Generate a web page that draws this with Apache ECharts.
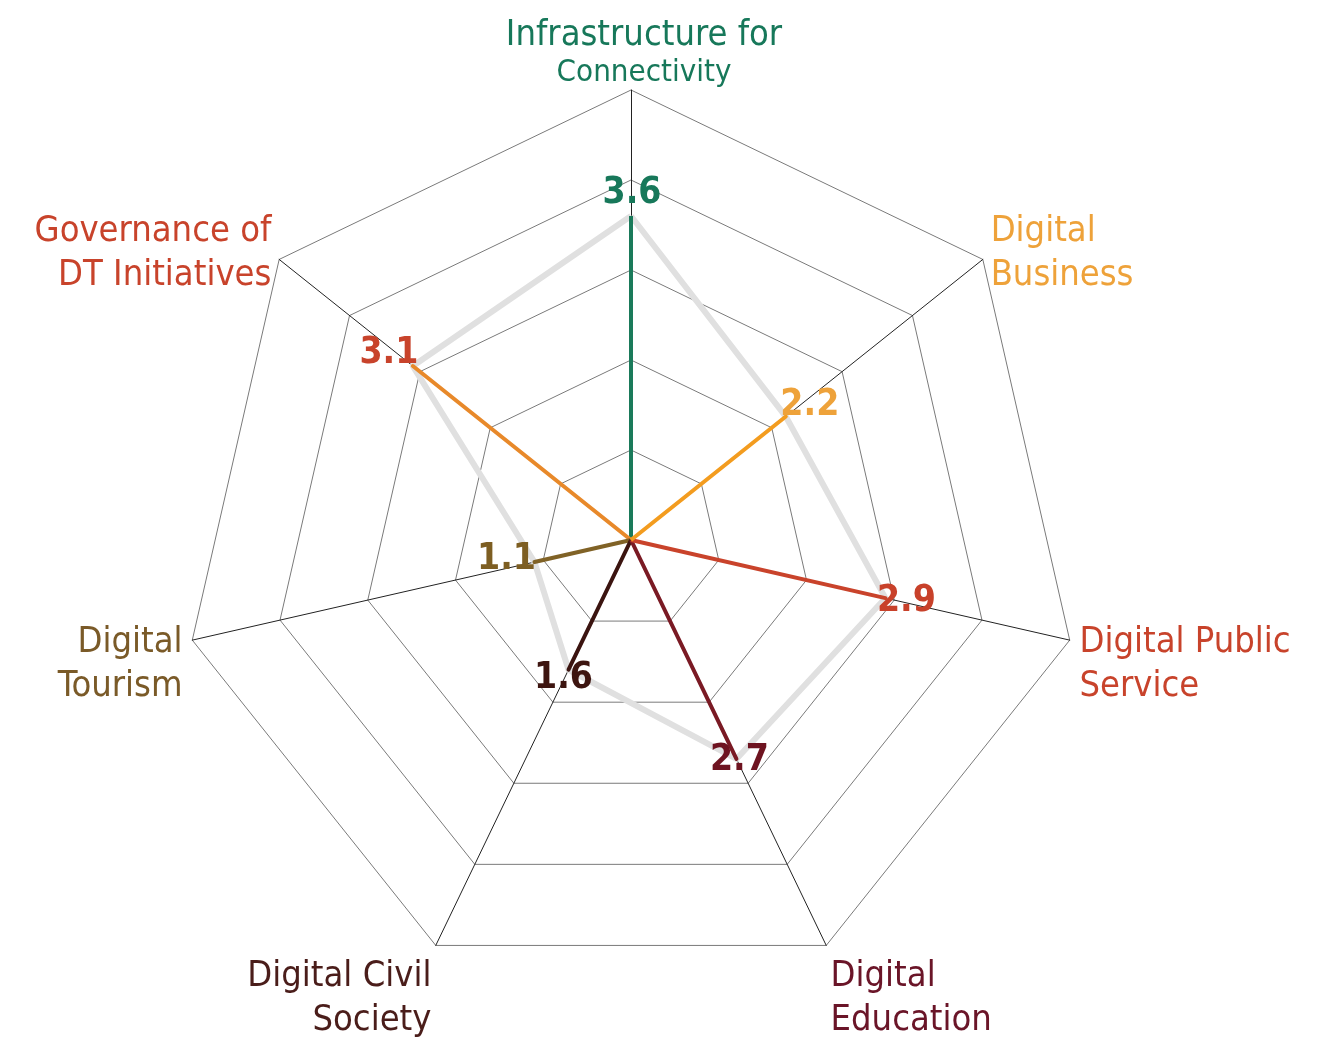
<!DOCTYPE html>
<html>
<head>
<meta charset="utf-8">
<script src="https://cdn.jsdelivr.net/npm/echarts@6/dist/echarts.min.js"></script>
<style>
  html, body { margin: 0; padding: 0; background: #fff; }
  #radar { width: 1329px; height: 1043px; }
</style>
</head>
<body>
<div id="radar"></div>
<script>
// indicators go counter-clockwise from the top, like echarts draws them
var axisNames = [
    'Infrastructure for\nConnectivity',
    'Governance of\nDT Initiatives',
    'Digital\nTourism',
    'Digital Civil\nSociety',
    'Digital\nEducation',
    'Digital Public\nService',
    'Digital\nBusiness'
];
var scores = [3.6, 3.1, 1.1, 1.6, 2.7, 2.9, 2.2];
var scaleMax = 5;

var nameColors = ['#17785a', '#c8432b', '#7a5a28', '#4a1d1a', '#6a1528', '#c8432b', '#eea23a'];
var spokeColors = ['#1a7a5a', '#e8892a', '#806226', '#3b1410', '#7a1a24', '#c9432b', '#f39c1f'];
var labelColors = ['#17785a', '#c8432b', '#7d5e22', '#3d1510', '#6e1320', '#c8412a', '#eea23a'];
var labelPlace = [
    { position: 'top', distance: 4, offset: [1, 0] },
    { position: 'top', distance: 2, offset: [-24, 8] },
    { position: 'left', distance: 4, offset: [6, -3] },
    { position: 'bottom', distance: 6, offset: [-5, -16] },
    { position: 'bottom', distance: 10, offset: [3, -28] },
    { position: 'right', distance: 3, offset: [-12, 3] },
    { position: 'top', distance: 1, offset: [24, 9] }
];
// blank lines pushed in front of a name to drop it below its vertex
var namePush = [0, 0, 1, 2, 2, 1, 0];

var font = "'DejaVu Sans Condensed', 'Liberation Sans Narrow', Roboto, sans-serif";

window.onload = function() {
    var chart = echarts.init(document.getElementById('radar'));

    var indicators = axisNames.map(function(n, i) {
        var pad = '';
        for (var k = 0; k < namePush[i]; k++) pad += '\n';
        return { name: pad + n, max: scaleMax, min: 0, color: nameColors[i] };
    });

    var series = [{
        type: 'radar',
        symbol: 'none',
        silent: true,
        z: 2,
        lineStyle: { color: '#e0e0e0', width: 6 },
        data: [{ value: scores.slice() }]
    }];

    // one spoke per indicator: a degenerate polygon that is zero everywhere else
    scores.forEach(function(s, i) {
        var vals = scores.map(function(x, j) { return j === i ? s : 0; });
        series.push({
            type: 'radar',
            symbol: 'circle',
            symbolSize: 1,
            silent: true,
            z: 3,
            itemStyle: { color: 'rgba(0,0,0,0)' },
            lineStyle: { color: spokeColors[i], width: 4 },
            label: {
                show: true,
                position: labelPlace[i].position,
                distance: labelPlace[i].distance,
                offset: labelPlace[i].offset,
                color: labelColors[i],
                fontFamily: font,
                fontWeight: 'bold',
                fontSize: 37,
                formatter: function(p) {
                    var v = Array.isArray(p.value) ? p.value[i] : p.value;
                    return v > 0 ? v.toFixed(1) : '';
                }
            },
            data: [{ value: vals }]
        });
    });

    var option = {
        animation: false,
        radar: {
            center: [631, 540],
            radius: 450,
            shape: 'polygon',
            splitNumber: 5,
            startAngle: 90,
            indicator: indicators,
            axisName: {
                fontFamily: font,
                fontSize: 36,
                lineHeight: 44,
                formatter: function(name) {
                    if (name.indexOf('Infrastructure') === 0) {
                        var parts = name.split('\n');
                        return '{a|' + parts[0] + '}\n{b|' + parts[1] + '}';
                    }
                    return name;
                },
                rich: {
                    a: { fontFamily: font, fontSize: 36, lineHeight: 60, color: '#17785a', align: 'center', padding: [0, 0, 0, 26] },
                    b: { fontFamily: font, fontSize: 31, lineHeight: 14, color: '#17785a', align: 'center', padding: [0, 0, 0, 26] }
                }
            },
            nameGap: 10,
            axisLine: { lineStyle: { color: '#222', width: 1 } },
            splitLine: { lineStyle: { color: '#7a7a7a', width: 1 } },
            splitArea: { show: false },
            axisTick: { show: false },
            axisLabel: { show: false }
        },
        series: series
    };

    chart.setOption(option);
};
</script>
</body>
</html>
